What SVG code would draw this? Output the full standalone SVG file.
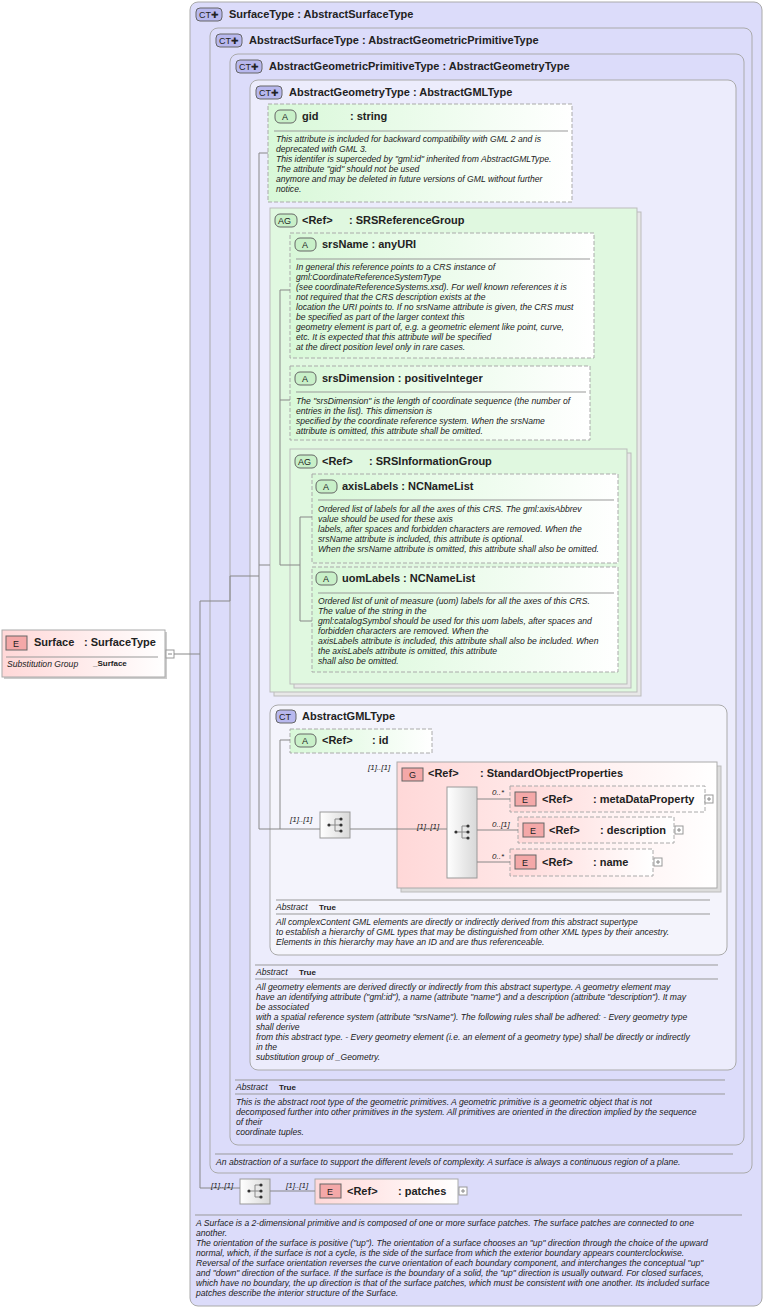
<svg xmlns="http://www.w3.org/2000/svg" width="764" height="1309" viewBox="0 0 764 1309">
<defs>
<linearGradient id="gg" x1="0" y1="0" x2="1" y2="0"><stop offset="0" stop-color="#d8f8d8"/><stop offset="1" stop-color="#ffffff"/></linearGradient>
<linearGradient id="gr" x1="0" y1="0" x2="1" y2="0"><stop offset="0" stop-color="#ffd8d8"/><stop offset="1" stop-color="#ffffff"/></linearGradient>
<linearGradient id="gs" x1="0" y1="0" x2="1" y2="0"><stop offset="0" stop-color="#ffffff"/><stop offset="1" stop-color="#d8d8d8"/></linearGradient>
</defs>
<style>
text{font-family:"Liberation Sans",Arial,sans-serif;fill:#222}
.t{font-size:11px;font-weight:bold}
.d{font-size:8.6px;font-style:italic}
.k{font-size:8.6px;font-style:italic}
.b{font-size:8px;font-weight:bold}
.ct{fill:#dcdcfa;stroke:#aaa;stroke-width:1}
.ct2{fill:#ececfc;stroke:#aaa}
.ag{fill:#e0f8e0;stroke:#bbb}
.at{fill:url(#gg);stroke:#aaa;stroke-dasharray:4,2}
.el{fill:url(#gr);stroke:#aaa;stroke-dasharray:4,2}
.bdgCT{fill:#b8b8ee;stroke:#666}
.bdgA{fill:#c8f0c8;stroke:#666}
.bdgE{fill:#f4a8a8;stroke:#666}
.ln{stroke:#888;fill:none}
.sep{stroke:#999}
.sq{fill:url(#gs);stroke:#999}
.pl{fill:#fff;stroke:#999}
</style>
<g id="SurfaceType"><rect class="ct" x="190" y="2" width="572" height="1304" rx="8"/>
<rect class="bdgCT" x="196" y="8" width="26" height="13" rx="4"/><text x="199" y="18" font-size="9">CT✚</text>
<text class="t" x="229" y="18">SurfaceType : AbstractSurfaceType</text></g>
<g id="AbstractSurfaceType"><rect class="ct" x="210" y="28" width="542" height="1145" rx="8"/>
<rect class="bdgCT" x="216" y="34" width="26" height="13" rx="4"/><text x="219" y="44" font-size="9">CT✚</text>
<text class="t" x="249" y="44">AbstractSurfaceType : AbstractGeometricPrimitiveType</text></g>
<g id="AbstractGeometricPrimitiveType"><rect class="ct" x="230" y="54" width="514" height="1091" rx="8"/>
<rect class="bdgCT" x="236" y="60" width="26" height="13" rx="4"/><text x="239" y="70" font-size="9">CT✚</text>
<text class="t" x="269" y="70">AbstractGeometricPrimitiveType : AbstractGeometryType</text></g>
<g id="AbstractGeometryType"><rect class="ct2" x="250" y="80" width="486" height="990" rx="8"/>
<rect class="bdgCT" x="256" y="86" width="26" height="13" rx="4"/><text x="259" y="96" font-size="9">CT✚</text>
<text class="t" x="289" y="96">AbstractGeometryType : AbstractGMLType</text></g>
<g id="gid"><rect class="at" x="268" y="104" width="304" height="98"/>
<rect class="bdgA" x="275" y="110" width="21" height="13" rx="5"/><text x="282" y="120" font-size="9">A</text>
<text class="t" x="302" y="120">gid</text><text class="t" x="350" y="120">: string</text>
<line class="sep" x1="274" y1="131" x2="568" y2="131"/>
<text class="d" x="276" y="142">This attribute is included for backward compatibility with GML 2 and is</text>
<text class="d" x="276" y="152">deprecated with GML 3.</text>
<text class="d" x="276" y="162">This identifer is superceded by "gml:id" inherited from AbstractGMLType.</text>
<text class="d" x="276" y="172">The attribute "gid" should not be used</text>
<text class="d" x="276" y="182">anymore and may be deleted in future versions of GML without further</text>
<text class="d" x="276" y="192">notice.</text></g>
<g id="SRSReferenceGroup"><rect x="274" y="212" width="367" height="484" fill="#e8e8e8" stroke="#bbb"/><rect class="ag" x="270" y="208" width="367" height="484"/>
<rect class="bdgA" x="275" y="214" width="22" height="13" rx="5"/><text x="278" y="224" font-size="9">AG</text>
<text class="t" x="302" y="224">&lt;Ref&gt;</text><text class="t" x="349" y="224">: SRSReferenceGroup</text></g>
<g id="srsName"><rect class="at" x="290" y="233" width="304" height="125"/>
<rect class="bdgA" x="295" y="238" width="21" height="13" rx="5"/><text x="302" y="248" font-size="9">A</text>
<text class="t" x="322" y="248">srsName : anyURI</text>
<line class="sep" x1="296" y1="259" x2="590" y2="259"/>
<text class="d" x="296" y="270">In general this reference points to a CRS instance of</text>
<text class="d" x="296" y="280">gml:CoordinateReferenceSystemType</text>
<text class="d" x="296" y="290">(see coordinateReferenceSystems.xsd). For well known references it is</text>
<text class="d" x="296" y="300">not required that the CRS description exists at the</text>
<text class="d" x="296" y="310">location the URI points to. If no srsName attribute is given, the CRS must</text>
<text class="d" x="296" y="320">be specified as part of the larger context this</text>
<text class="d" x="296" y="330">geometry element is part of, e.g. a geometric element like point, curve,</text>
<text class="d" x="296" y="340">etc. It is expected that this attribute will be specified</text>
<text class="d" x="296" y="350">at the direct position level only in rare cases.</text></g>
<g id="srsDimension"><rect class="at" x="290" y="366" width="300" height="74"/>
<rect class="bdgA" x="295" y="372" width="21" height="13" rx="5"/><text x="302" y="382" font-size="9">A</text>
<text class="t" x="322" y="382">srsDimension : positiveInteger</text>
<line class="sep" x1="296" y1="392" x2="586" y2="392"/>
<text class="d" x="296" y="404">The "srsDimension" is the length of coordinate sequence (the number of</text>
<text class="d" x="296" y="414">entries in the list). This dimension is</text>
<text class="d" x="296" y="424">specified by the coordinate reference system. When the srsName</text>
<text class="d" x="296" y="434">attribute is omitted, this attribute shall be omitted.</text></g>
<g id="SRSInformationGroup"><rect x="294" y="453" width="337" height="235" fill="#e8e8e8" stroke="#bbb"/><rect class="ag" x="290" y="449" width="337" height="235"/>
<rect class="bdgA" x="295" y="455" width="22" height="13" rx="5"/><text x="298" y="465" font-size="9">AG</text>
<text class="t" x="322" y="465">&lt;Ref&gt;</text><text class="t" x="369" y="465">: SRSInformationGroup</text></g>
<g id="axisLabels"><rect class="at" x="312" y="474" width="306" height="89"/>
<rect class="bdgA" x="316" y="480" width="21" height="13" rx="5"/><text x="323" y="490" font-size="9">A</text>
<text class="t" x="342" y="490">axisLabels : NCNameList</text>
<line class="sep" x1="318" y1="500" x2="614" y2="500"/>
<text class="d" x="318" y="512">Ordered list of labels for all the axes of this CRS. The gml:axisAbbrev</text>
<text class="d" x="318" y="522">value should be used for these axis</text>
<text class="d" x="318" y="532">labels, after spaces and forbidden characters are removed. When the</text>
<text class="d" x="318" y="542">srsName attribute is included, this attribute is optional.</text>
<text class="d" x="318" y="552">When the srsName attribute is omitted, this attribute shall also be omitted.</text></g>
<g id="uomLabels"><rect class="at" x="312" y="567" width="306" height="105"/>
<rect class="bdgA" x="316" y="572" width="21" height="13" rx="5"/><text x="323" y="582" font-size="9">A</text>
<text class="t" x="342" y="582">uomLabels : NCNameList</text>
<line class="sep" x1="318" y1="593" x2="614" y2="593"/>
<text class="d" x="318" y="604">Ordered list of unit of measure (uom) labels for all the axes of this CRS.</text>
<text class="d" x="318" y="614">The value of the string in the</text>
<text class="d" x="318" y="624">gml:catalogSymbol should be used for this uom labels, after spaces and</text>
<text class="d" x="318" y="634">forbidden characters are removed. When the</text>
<text class="d" x="318" y="644">axisLabels attribute is included, this attribute shall also be included. When</text>
<text class="d" x="318" y="654">the axisLabels attribute is omitted, this attribute</text>
<text class="d" x="318" y="664">shall also be omitted.</text></g>
<g id="AbstractGMLType"><rect x="270" y="705" width="457" height="250" rx="8" fill="#f4f4fc" stroke="#aaa"/>
<rect class="bdgCT" x="276" y="710" width="20" height="13" rx="4"/><text x="279" y="720" font-size="9">CT</text>
<text class="t" x="302" y="720">AbstractGMLType</text>
<line class="sep" x1="276" y1="900" x2="710" y2="900"/>
<text class="k" x="276" y="910">Abstract</text><text class="b" x="319" y="910">True</text>
<line class="sep" x1="276" y1="914" x2="710" y2="914"/>
<text class="d" x="276" y="925">All complexContent GML elements are directly or indirectly derived from this abstract supertype</text>
<text class="d" x="276" y="935">to establish a hierarchy of GML types that may be distinguished from other XML types by their ancestry.</text>
<text class="d" x="276" y="945">Elements in this hierarchy may have an ID and are thus referenceable.</text></g>
<g id="id"><rect class="at" x="290" y="729" width="142" height="24"/>
<rect class="bdgA" x="295" y="734" width="21" height="13" rx="5"/><text x="302" y="744" font-size="9">A</text>
<text class="t" x="322" y="744">&lt;Ref&gt;</text><text class="t" x="372" y="744">: id</text></g>
<g id="seq1"><rect class="sq" x="320" y="812" width="30" height="26"/>
<circle cx="329" cy="825" r="1.6" fill="#333"/><path class="ln" stroke="#333" d="M330 825H335M335 819V831M335 819H341M335 825H341M335 831H341"/>
<circle cx="341" cy="819" r="1.6" fill="#333"/><circle cx="341" cy="825" r="1.6" fill="#333"/><circle cx="341" cy="831" r="1.6" fill="#333"/></g>
<g id="StandardObjectProperties"><rect x="401" y="766" width="320" height="126" fill="#ddd" stroke="#bbb"/><rect x="397" y="762" width="320" height="126" fill="url(#gr)" stroke="#aaa"/>
<rect class="bdgE" x="402" y="768" width="21" height="13"/><text x="409" y="778" font-size="9">G</text>
<text class="t" x="428" y="777">&lt;Ref&gt;</text><text class="t" x="480" y="777">: StandardObjectProperties</text>
<rect class="sq" x="447" y="787" width="30" height="91"/>
<circle cx="456" cy="832" r="1.6" fill="#333"/><path class="ln" stroke="#333" d="M457 832H462M462 826V838M462 826H468M462 832H468M462 838H468"/>
<circle cx="468" cy="826" r="1.6" fill="#333"/><circle cx="468" cy="832" r="1.6" fill="#333"/><circle cx="468" cy="838" r="1.6" fill="#333"/></g>
<g id="metaDataProperty"><rect class="el" x="510" y="786" width="195" height="26"/>
<rect class="bdgE" x="515" y="792" width="21" height="14"/><text x="522" y="803" font-size="9">E</text>
<text class="t" x="542" y="803">&lt;Ref&gt;</text><text class="t" x="593" y="803">: metaDataProperty</text>
<rect class="pl" x="705" y="795" width="8" height="8"/><path class="ln" d="M707 799H711M709 797V801"/></g>
<g id="description"><rect class="el" x="518" y="817" width="156" height="26"/>
<rect class="bdgE" x="523" y="823" width="21" height="14"/><text x="530" y="834" font-size="9">E</text>
<text class="t" x="549" y="834">&lt;Ref&gt;</text><text class="t" x="600" y="834">: description</text>
<rect class="pl" x="675" y="826" width="8" height="8"/><path class="ln" d="M677 830H681M679 828V832"/></g>
<g id="name"><rect class="el" x="510" y="849" width="143" height="27"/>
<rect class="bdgE" x="515" y="855" width="21" height="14"/><text x="522" y="866" font-size="9">E</text>
<text class="t" x="542" y="866">&lt;Ref&gt;</text><text class="t" x="593" y="866">: name</text>
<rect class="pl" x="654" y="858" width="8" height="8"/><path class="ln" d="M656 862H660M658 860V864"/></g>
<g id="geomAbstract">
<line class="sep" x1="255" y1="965" x2="718" y2="965"/>
<text class="k" x="256" y="975">Abstract</text><text class="b" x="299" y="975">True</text>
<line class="sep" x1="255" y1="979" x2="718" y2="979"/>
<text class="d" x="256" y="990">All geometry elements are derived directly or indirectly from this abstract supertype. A geometry element may</text>
<text class="d" x="256" y="1000">have an identifying attribute ("gml:id"), a name (attribute "name") and a description (attribute "description"). It may</text>
<text class="d" x="256" y="1010">be associated</text>
<text class="d" x="256" y="1020">with a spatial reference system (attribute "srsName"). The following rules shall be adhered: - Every geometry type</text>
<text class="d" x="256" y="1030">shall derive</text>
<text class="d" x="256" y="1040">from this abstract type. - Every geometry element (i.e. an element of a geometry type) shall be directly or indirectly</text>
<text class="d" x="256" y="1050">in the</text>
<text class="d" x="256" y="1060">substitution group of _Geometry.</text></g>
<g id="primAbstract">
<line class="sep" x1="235" y1="1080" x2="725" y2="1080"/>
<text class="k" x="236" y="1090">Abstract</text><text class="b" x="279" y="1090">True</text>
<line class="sep" x1="235" y1="1094" x2="725" y2="1094"/>
<text class="d" x="236" y="1105">This is the abstract root type of the geometric primitives. A geometric primitive is a geometric object that is not</text>
<text class="d" x="236" y="1115">decomposed further into other primitives in the system. All primitives are oriented in the direction implied by the sequence</text>
<text class="d" x="236" y="1125">of their</text>
<text class="d" x="236" y="1135">coordinate tuples.</text></g>
<g id="surfAbstract">
<line class="sep" x1="215" y1="1154" x2="733" y2="1154"/>
<text class="d" x="216" y="1165">An abstraction of a surface to support the different levels of complexity. A surface is always a continuous region of a plane.</text></g>
<g id="seq2"><rect class="sq" x="240" y="1179" width="30" height="25"/>
<circle cx="249" cy="1191" r="1.6" fill="#333"/><path class="ln" stroke="#333" d="M250 1191H255M255 1185V1197M255 1185H261M255 1191H261M255 1197H261"/>
<circle cx="261" cy="1185" r="1.6" fill="#333"/><circle cx="261" cy="1191" r="1.6" fill="#333"/><circle cx="261" cy="1197" r="1.6" fill="#333"/></g>
<g id="patches"><rect x="315" y="1179" width="143" height="25" fill="url(#gr)" stroke="#aaa"/>
<rect class="bdgE" x="320" y="1184" width="21" height="14"/><text x="327" y="1195" font-size="9">E</text>
<text class="t" x="347" y="1195">&lt;Ref&gt;</text><text class="t" x="398" y="1195">: patches</text>
<rect class="pl" x="459" y="1187" width="8" height="8"/><path class="ln" d="M461 1191H465M463 1189V1193"/></g>
<g id="surfDesc">
<line class="sep" x1="195" y1="1215" x2="742" y2="1215"/>
<text class="d" x="196" y="1226">A Surface is a 2-dimensional primitive and is composed of one or more surface patches. The surface patches are connected to one</text>
<text class="d" x="196" y="1236">another.</text>
<text class="d" x="196" y="1246">The orientation of the surface is positive ("up"). The orientation of a surface chooses an "up" direction through the choice of the upward</text>
<text class="d" x="196" y="1256">normal, which, if the surface is not a cycle, is the side of the surface from which the exterior boundary appears counterclockwise.</text>
<text class="d" x="196" y="1266">Reversal of the surface orientation reverses the curve orientation of each boundary component, and interchanges the conceptual "up"</text>
<text class="d" x="196" y="1276">and "down" direction of the surface. If the surface is the boundary of a solid, the "up" direction is usually outward. For closed surfaces,</text>
<text class="d" x="196" y="1286">which have no boundary, the up direction is that of the surface patches, which must be consistent with one another. Its included surface</text>
<text class="d" x="196" y="1296">patches describe the interior structure of the Surface.</text></g>
<g id="Surface"><rect x="4" y="632" width="163" height="47" fill="#ccc"/><rect x="2" y="630" width="163" height="47" fill="url(#gr)" stroke="#aaa"/>
<rect class="bdgE" x="6" y="636" width="21" height="14"/><text x="13" y="647" font-size="9">E</text>
<text class="t" x="34" y="646">Surface</text><text class="t" x="84" y="646">: SurfaceType</text>
<line class="sep" x1="6" y1="657" x2="158" y2="657"/>
<text class="k" x="7" y="667">Substitution Group</text><text class="b" x="93" y="666">_Surface</text>
<rect class="pl" x="166" y="650" width="8" height="8"/><path class="ln" d="M168 654H172"/></g>
<g id="connectors" class="ln">
<path d="M174 654H200M200 601V1188H240M200 601H210M210 601H230V576H259M259 153V829M259 153H268M259 565H270M259 829H320"/>
<path d="M280 290V565H290M280 290H290M280 400H290M300 517V621M300 517H312M300 621H312M290 565H300"/>
<path d="M280 740V829M280 740H290"/>
<path d="M350 829H447M477 799H510M477 830H518M477 862H510M270 1191H315"/>
</g>
<g id="labels">
<text x="368" y="770" style="font-size:8px;font-style:italic">[1]..[1]</text>
<text x="290" y="822" style="font-size:8px;font-style:italic">[1]..[1]</text>
<text x="417" y="829" style="font-size:8px;font-style:italic">[1]..[1]</text>
<text x="492" y="795" style="font-size:8px;font-style:italic">0..*</text>
<text x="492" y="827" style="font-size:8px;font-style:italic">0..[1]</text>
<text x="492" y="859" style="font-size:8px;font-style:italic">0..*</text>
<text x="211" y="1188" style="font-size:8px;font-style:italic">[1]..[1]</text>
<text x="286" y="1188" style="font-size:8px;font-style:italic">[1]..[1]</text>
</g>
</svg>
